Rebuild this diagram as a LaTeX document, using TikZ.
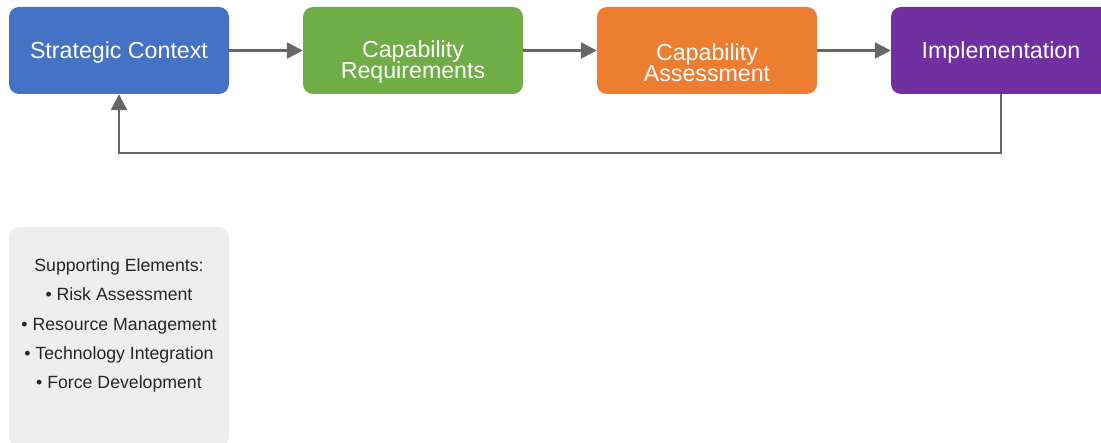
\documentclass[tikz,border=0pt]{standalone}
\usepackage{fontspec}
\setmainfont{Liberation Sans}
\usetikzlibrary{arrows.meta}
\definecolor{cblue}{HTML}{4472C4}
\definecolor{cgreen}{HTML}{70AD47}
\definecolor{corange}{HTML}{ED7D31}
\definecolor{cpurple}{HTML}{7030A0}
\definecolor{cgray}{HTML}{EEEEEE}
\definecolor{cline}{HTML}{666666}
\begin{document}
\begin{tikzpicture}[x=1pt,y=-1pt,
  stage/.style={rounded corners=10pt, minimum width=220pt, minimum height=87pt, inner sep=0pt,
    draw=none},
  stagetext/.style={text=white, align=center, font={\fontsize{23.2}{21}\selectfont\lineskiplimit=-50pt}, inner sep=0pt},
  flow/.style={draw=cline, line width=2.5pt, -{Triangle[length=16pt,width=16pt]}},
  support/.style={rounded corners=10pt, fill=cgray, minimum width=220pt, minimum height=220pt,
    inner sep=0pt, draw=none}]
\useasboundingbox (0,0) rectangle (1101,443);
\clip (0,0) rectangle (1101,443);
\node[stage, fill=cblue]   (sc) at (119,50.5) {};
\node[stage, fill=cgreen]  (cr) at (413,50.5) {};
\node[stage, fill=corange] (ca) at (707,50.5) {};
\node[stage, fill=cpurple] (im) at (1001,50.5) {};
\node[stagetext] (tsc) at (119,52.3) {Strategic Context};
\node[stagetext] (tcr) at (413,62.5) {Capability\\Requirements};
\node[stagetext] (tca) at (707,62.5) {Capability\\Assessment};
\node[stagetext] (tim) at (1001,52.3) {Implementation};
\draw[flow] (sc) -- (cr);
\draw[flow] (cr) -- (ca);
\draw[flow] (ca) -- (im);
\draw[flow] (im.south) |- (560,153) -| (sc.south);
\node[support] (se) at (119,337) {};
\node[align=center, text=black!85, font=\fontsize{17.7}{29.3}\selectfont] (st) at (119,325.5)
  {Supporting Elements:\\ • Risk Assessment\\ • Resource Management\\ • Technology Integration\\ • Force Development};
\end{tikzpicture}
\end{document}
